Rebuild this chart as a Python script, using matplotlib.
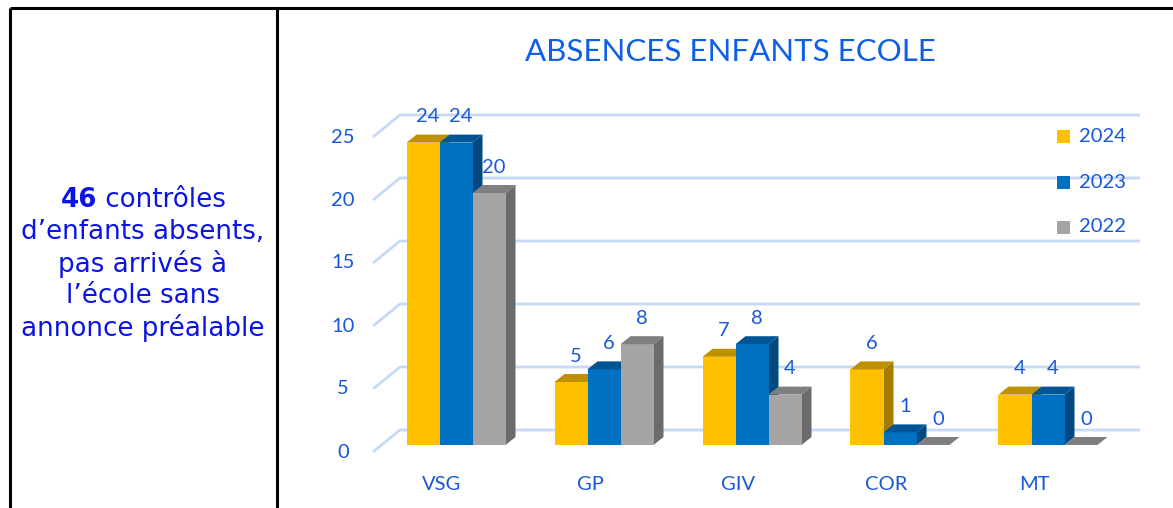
import matplotlib
matplotlib.use("Agg")
import matplotlib.pyplot as plt
from matplotlib.patches import Polygon, Rectangle
import numpy as np

categories = ["VSG", "GP", "GIV", "COR", "MT"]
years = ["2024", "2023", "2022"]
values_2024 = [24, 5, 7, 6, 4]
values_2023 = [24, 6, 8, 1, 4]
values_2022 = [20, 8, 4, 0, 0]
series = [values_2024, values_2023, values_2022]
yticks = [0, 5, 10, 15, 20, 25]
title = "ABSENCES ENFANTS ECOLE"
left_lines = ["d\u2019enfants absents,", "pas arriv\u00e9s \u00e0", "l\u2019\u00e9cole sans", "annonce pr\u00e9alable"]

front_cols = ["#FFC000", "#0070C0", "#A5A5A5"]
top_cols = ["#BF9000", "#005596", "#7F7F7F"]
side_cols = ["#A67C00", "#004A80", "#6B6B6B"]
txt_blue = "#1858D8"
grid_col = "#C6DAF8"
chart_font = "Lato"

W, H = 1173, 508
fig = plt.figure(figsize=(W / 100, H / 100), dpi=100)

# table frame (pixel coordinates)
frame = fig.add_axes([0, 0, 1, 1])
frame.set_xlim(0, W)
frame.set_ylim(H, 0)
frame.axis("off")
frame.plot([10, 10], [8, H], color="black", lw=2.2, solid_capstyle="butt")
frame.plot([10, W], [8, 8], color="black", lw=2.2, solid_capstyle="butt")
frame.plot([277, 277], [8, H], color="black", lw=2.2, solid_capstyle="butt")

# left text
fs_left = 18.8
cx = 143
line_y = [232, 264, 296, 328]
for t, y in zip(left_lines, line_y):
    frame.text(cx, y, t, ha="center", va="center", fontsize=fs_left,
               color="#0A14E6", family="DejaVu Sans")
fig.canvas.draw()
r = fig.canvas.get_renderer()
t1 = frame.text(0, 200, "46", ha="left", va="center", fontsize=fs_left,
                color="#0A14E6", family="DejaVu Sans", fontweight="bold")
t2 = frame.text(0, 200, " contr\u00f4les", ha="left", va="center", fontsize=fs_left,
                color="#0A14E6", family="DejaVu Sans")
w1 = t1.get_window_extent(r).width
w2 = t2.get_window_extent(r).width
start = cx - (w1 + w2) / 2
t1.set_x(start)
t2.set_x(start + w1)

# chart axes: x in category units, y in value units
x0px, x1px = 283, 1170
gc0, gstep = 456, 148.0   # px of first group centre, spacing
y0px, ppu = 445, 12.6     # px of value 0 (front plane), px per unit
ax = fig.add_axes([x0px / W, 0, (x1px - x0px) / W, 1])
ax.set_xlim((x0px - gc0) / gstep, (x1px - gc0) / gstep)
ax.set_ylim((y0px - H) / ppu, y0px / ppu)
ax.axis("off")

fs = 14.5

# gridlines (back wall with slanted floor-side segment)
gx_front = (373 - gc0) / gstep
gx_back = (400 - gc0) / gstep
gx_end = (1140 - gc0) / gstep
off_front = -7 / ppu
off_back = 15 / ppu
for v in yticks:
    ax.plot([gx_front, gx_back, gx_end], [v + off_front, v + off_back, v + off_back],
            color=grid_col, lw=2, zorder=1, solid_capstyle="butt")
    ax.text((343 - gc0) / gstep, v - 7 / ppu, str(v), ha="center", va="center",
            fontsize=fs, color=txt_blue, family=chart_font)

# bars with pseudo-3D faces
bw = 33 / gstep
dx = 10 / gstep
dy = 8 / ppu
x = np.arange(len(categories))
for g in range(len(categories)):
    for s in range(len(series)):
        v = series[s][g]
        xl = x[g] + (s - 1.5) * bw
        xr = xl + bw
        z = 3 + g * 10 + s * 2
        ax.bar(xl, v, width=bw, align="edge", color=front_cols[s], zorder=z + 1,
               linewidth=0)
        side = Polygon([[xr, 0], [xr + dx, dy], [xr + dx, v + dy], [xr, v]],
                       closed=True, facecolor=side_cols[s], edgecolor="none", zorder=z)
        top = Polygon([[xl, v], [xr, v], [xr + dx, v + dy], [xl + dx, v + dy]],
                      closed=True, facecolor=top_cols[s], edgecolor="none", zorder=z + 1)
        ax.add_patch(side)
        ax.add_patch(top)
        ax.text(xl + bw / 2 + dx / 2, v + 2.05, str(v), ha="center", va="center",
                fontsize=fs, color=txt_blue, family=chart_font, zorder=100)
    ax.text(x[g] - 14 / gstep, (y0px - 484) / ppu, categories[g], ha="center",
            va="center", fontsize=fs, color=txt_blue, family=chart_font)

# legend
leg_y = [136, 182, 227]
for s in range(len(years)):
    yv = (y0px - leg_y[s]) / ppu
    sq = 13
    ax.add_patch(Rectangle(((1057 - gc0) / gstep, yv - sq / 2 / ppu), sq / gstep, sq / ppu,
                           facecolor=front_cols[s], edgecolor="none", zorder=50))
    ax.text((1079 - gc0) / gstep, yv, years[s], ha="left", va="center", fontsize=fs,
            color=txt_blue, family=chart_font)

# title
ax.text((730 - gc0) / gstep, (y0px - 52) / ppu, title, ha="center", va="center",
        fontsize=22.5, color="#0F5FE6", family=chart_font)

fig.savefig("out.png", dpi=100)
